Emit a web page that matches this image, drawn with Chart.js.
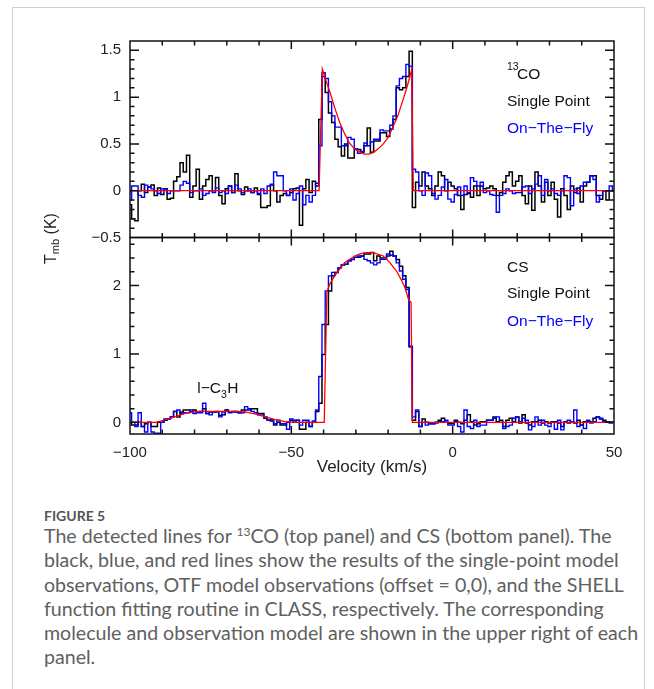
<!DOCTYPE html>
<html>
<head>
<meta charset="utf-8">
<script src="https://cdn.jsdelivr.net/npm/chart.js@4.4.1/dist/chart.umd.min.js"></script>
<style>
  html, body { margin: 0; padding: 0; background: #fff; }
  body { width: 654px; height: 689px; position: relative; overflow: hidden; }
  #box { position: absolute; left: 12px; top: 7px; width: 633px; height: 720px; border: 1px solid #cfcfcf; box-sizing: border-box; }
  #wrap { position: absolute; left: 0; top: 0; width: 654px; height: 490px; }
  #fig { position: absolute; left: 44px; top: 508px; font: 700 14px/16.8px Lato, sans-serif; color: #555; }
  #cap { position: absolute; left: 44px; top: 524px; width: 610px; font-family: Lato, sans-serif; font-size: 19.5px; line-height: 24.3px; color: #606060; white-space: nowrap; }
  #cap sup { font-size: 0.62em; vertical-align: 0.55em; line-height: 0; }
</style>
</head>
<body>
<div id="box"></div>
<div id="wrap"><canvas id="spectra"></canvas></div>
<div id="fig">FIGURE 5</div>
<div id="cap"></div>
<script>
// channel velocities (km/s), shared by both spectra
const velocity = [-100,-99,-98,-97,-96,-95,-94,-93,-92,-91,-90,-89,-88,-87,-86,-85,-84,-83,-82,-81,
  -80,-79,-78,-77,-76,-75,-74,-73,-72,-71,-70,-69,-68,-67,-66,-65,-64,-63,-62,-61,
  -60,-59,-58,-57,-56,-55,-54,-53,-52,-51,-50,-49,-48,-47,-46,-45,-44,-43,-42,-41,
  -40,-39,-38,-37,-36,-35,-34,-33,-32,-31,-30,-29,-28,-27,-26,-25,-24,-23,-22,-21,
  -20,-19,-18,-17,-16,-15,-14,-13,-12,-11,-10,-9,-8,-7,-6,-5,-4,-3,-2,-1,
  0,1,2,3,4,5,6,7,8,9,10,11,12,13,14,15,16,17,18,19,
  20,21,22,23,24,25,26,27,28,29,30,31,32,33,34,35,36,37,38,39,
  40,41,42,43,44,45,46,47,48,49,50];

// 13CO, single point (black)
const co13Single = [-0.15,-0.3,-0.32,0.0,0.07,-0.02,0.04,0.06,-0.05,0.03,
  -0.04,0.02,-0.09,-0.08,0.1,0.15,0.3,0.2,0.38,-0.07,
  0.05,0.23,-0.09,0.05,0.12,0.16,0.0,0.14,-0.05,-0.14,
  0.02,0.05,-0.02,0.18,0.0,-0.04,0.04,0.0,-0.02,0.03,
  -0.04,-0.18,-0.18,-0.16,0.06,0.0,-0.12,-0.05,-0.03,-0.05,
  -0.02,0.02,0.03,-0.37,0.02,0.12,-0.02,0.1,0.05,0.76,
  1.22,1.05,0.83,0.73,0.55,0.47,0.37,0.5,0.35,0.35,
  0.44,0.44,0.41,0.48,0.67,0.41,0.53,0.53,0.62,0.62,
  0.58,0.66,0.76,1.1,1.08,1.1,1.22,1.49,-0.18,0.09,
  0.05,0.2,0.05,0.02,-0.05,0.05,0.2,0.16,0.0,0.09,
  0.05,0.02,-0.05,-0.2,-0.04,-0.03,-0.07,0.05,-0.05,0.05,
  0.02,0.03,0.05,0.02,-0.05,-0.02,0.09,0.16,0.2,0.05,
  0.1,0.16,-0.05,-0.14,0.05,-0.21,0.2,0.05,-0.12,0.09,
  -0.05,0.09,-0.09,-0.28,0.02,-0.05,-0.2,0.05,-0.02,0.03,
  -0.12,0.05,0.09,0.16,0.16,-0.05,-0.09,0.0,-0.1,0.0,
  0.0];

// 13CO, on-the-fly (blue)
const co13Otf = [-0.1,0.05,0.05,-0.05,-0.07,0.06,0.04,0.02,0.0,-0.03,
  0.02,0.02,-0.03,0.0,0.0,0.0,0.06,0.1,0.08,-0.02,
  0.0,0.0,0.02,-0.05,-0.03,0.0,-0.02,0.03,-0.02,0.0,
  -0.03,0.05,-0.02,0.06,0.02,-0.02,0.0,0.02,-0.02,0.0,
  -0.03,0.02,-0.03,0.05,0.07,0.2,0.16,0.16,0.0,-0.05,
  0.02,-0.1,-0.03,0.05,-0.15,-0.05,-0.12,-0.05,0.08,0.48,
  1.26,1.2,0.95,0.8,0.68,0.68,0.48,0.48,0.57,0.55,
  0.45,0.4,0.42,0.51,0.48,0.52,0.55,0.55,0.65,0.64,
  0.64,0.7,0.8,1.12,1.2,1.22,1.35,1.33,0.23,0.2,
  0.0,-0.05,0.19,0.16,-0.03,-0.09,-0.05,0.04,0.12,-0.09,
  -0.12,-0.04,0.04,-0.05,0.05,-0.02,0.14,0.1,0.05,0.09,
  -0.02,0.0,-0.04,-0.05,-0.23,-0.05,-0.03,0.02,0.0,-0.03,
  -0.02,-0.02,0.04,0.05,-0.03,0.02,0.07,0.16,-0.05,0.12,
  0.0,0.02,-0.03,-0.05,0.0,0.16,0.14,-0.16,0.02,-0.03,
  0.05,0.09,0.09,0.16,0.12,-0.12,-0.05,0.0,0.0,0.05,
  0.0];

// CS, single point (black)
const csSingle = [0.0,-0.04,-0.04,0.0,-0.06,-0.02,0.0,-0.06,-0.06,0.0,
  0.0,0.03,0.05,0.08,0.16,0.08,0.15,0.18,0.18,0.15,
  0.18,0.15,0.16,0.2,0.13,0.15,0.15,0.15,0.1,0.11,
  0.18,0.15,0.16,0.15,0.14,0.18,0.18,0.18,0.2,0.2,
  0.13,0.13,0.06,0.03,0.02,-0.04,0.0,-0.04,-0.04,0.0,
  0.03,0.0,0.03,-0.1,-0.1,0.0,-0.06,0.0,0.16,0.28,
  0.99,1.43,1.92,2.14,2.19,2.26,2.3,2.31,2.36,2.38,
  2.41,2.41,2.43,2.46,2.46,2.48,2.36,2.43,2.4,2.4,
  2.43,2.5,2.43,2.38,2.28,2.14,1.97,1.11,0.03,0.16,
  -0.06,0.05,0.0,-0.02,-0.02,0.0,0.03,0.06,0.0,-0.02,
  -0.02,0.03,0.0,-0.02,0.03,0.11,0.01,-0.04,-0.02,0.01,
  0.01,0.03,0.03,0.08,0.01,0.03,-0.06,0.03,0.06,0.01,
  0.08,-0.01,0.11,-0.01,-0.04,0.01,0.01,0.03,-0.01,0.01,
  -0.01,0.01,0.01,-0.01,-0.06,0.01,-0.01,0.01,-0.01,0.03,
  -0.04,0.01,0.01,0.01,0.06,0.08,0.05,0.03,0.01,0.0,
  0.0];

// CS, on-the-fly (blue)
const csOtf = [0.14,0.0,-0.06,0.14,-0.06,-0.14,0.0,-0.14,-0.16,-0.16,
  0.0,0.05,0.05,0.08,0.16,0.18,0.13,0.14,0.14,0.18,
  0.13,0.14,0.14,0.28,0.13,0.11,0.15,0.16,0.08,0.15,
  0.18,0.14,0.15,0.16,0.14,0.14,0.23,0.2,0.16,0.14,
  0.11,0.11,0.08,0.03,0.04,-0.02,0.03,-0.02,-0.02,-0.1,
  0.05,0.03,0.03,-0.04,0.03,0.03,-0.06,0.02,0.18,0.67,
  1.43,1.92,2.14,2.19,2.19,2.26,2.3,2.31,2.36,2.38,
  2.41,2.43,2.43,2.38,2.36,2.33,2.3,2.33,2.38,2.38,
  2.46,2.44,2.43,2.33,2.21,2.09,1.94,1.1,0.08,0.18,
  -0.06,0.0,-0.04,-0.02,-0.02,-0.01,0.01,0.01,0.03,-0.04,
  -0.04,0.01,-0.06,-0.14,0.18,-0.06,-0.09,0.03,-0.06,-0.04,
  -0.04,0.03,0.03,0.06,0.08,0.0,-0.09,-0.06,-0.04,0.06,
  0.08,0.01,0.06,0.03,-0.11,-0.06,0.08,-0.04,0.03,-0.04,
  -0.06,0.0,-0.1,0.03,-0.11,0.0,0.03,0.01,0.18,-0.06,
  -0.04,-0.09,0.03,-0.01,0.01,0.08,0.06,0.01,0.0,-0.01,
  0.0];

// SHELL fits (red)
const co13FitV = [-100,-41.4,-40.4,-39,-38,-36.5,-35,-33.5,-32,-30.5,-29,-27.5,-26,-24.5,-23,-21.5,-20,-18.5,-17,-15.5,-14.2,-12.7,-12.2,50];
const co13FitT = [0,0,1.3,1.15,1.05,0.88,0.73,0.61,0.51,0.45,0.42,0.39,0.39,0.41,0.45,0.5,0.57,0.68,0.8,0.96,1.1,1.29,0,0];
const csFitV = [-100,-92,-88,-85,-82.5,-78.5,-75,-71,-67,-64,-61,-58,-55,-52,-49,
  -39.8,-39,-38.1,-36.6,-35,-33.5,-31.9,-30.4,-28.7,-27.2,-24.6,-21.5,-19.4,-17.4,-15.8,-14.8,-13.7,-12.9,-12.5,50];
const csFitT = [0,0,0.05,0.1,0.14,0.16,0.16,0.16,0.16,0.15,0.12,0.08,0.04,0.01,0,
  0,1.9,2.02,2.14,2.24,2.33,2.38,2.43,2.46,2.48,2.48,2.43,2.33,2.21,2.07,1.97,1.8,1.75,0,0];

// ticks
const xTickLabels = [-100, -50, 0, 50];
const xMinorTicks = [-90, -80, -70, -60, -50, -40, -30, -20, -10, 0, 10, 20, 30, 40];
const topTickLabels = [-0.5, 0, 0.5, 1, 1.5];
const topMinorTicks = [-0.4, -0.3, -0.2, -0.1, 0, 0.1, 0.2, 0.3, 0.4, 0.5, 0.6, 0.7, 0.8, 0.9, 1, 1.1, 1.2, 1.3, 1.4, 1.5];
const botTickLabels = [0, 1, 2];
const botMinorTicks = [0, 0.2, 0.4, 0.6, 0.8, 1, 1.2, 1.4, 1.6, 1.8, 2, 2.2, 2.4, 2.6];

const captionLines = [
  'The detected lines for <sup>13</sup>CO (top panel) and CS (bottom panel). The',
  'black, blue, and red lines show the results of the single-point model',
  'observations, OTF model observations (offset = 0,0), and the SHELL',
  'function fitting routine in CLASS, respectively. The corresponding',
  'molecule and observation model are shown in the upper right of each',
  'panel.'
];

// caption, sized so the longest line fills the box
const cap = document.getElementById('cap');
cap.innerHTML = captionLines.join('<br>');
const mctx = document.createElement('canvas').getContext('2d');
mctx.font = '20px Lato';
cap.style.fontSize = (20 * 595 / mctx.measureText(captionLines[4]).width).toFixed(2) + 'px';

const pts = (xs, ys) => xs.map((v, i) => ({ x: v, y: ys[i] }));
const minus = v => String(v).replace('-', '\u2212');
const TXT = '#222';
const FONT = '"Liberation Sans", Arial, sans-serif';

function spectrum(data, color, axis, order, width) {
  return {
    data: data, yAxisID: axis, borderColor: color, borderWidth: width,
    pointRadius: 0, stepped: 'middle', fill: false, order: order
  };
}
function fit(data, axis) {
  return {
    data: data, yAxisID: axis, borderColor: '#ff0000', borderWidth: 1.3,
    pointRadius: 0, tension: 0, fill: false, order: 0
  };
}

function yAxis(min, max, labels) {
  return {
    type: 'linear', position: 'left', stack: 'panels', stackWeight: 1,
    min: min, max: max,
    grid: { display: false, drawTicks: false },
    border: { display: false },
    afterBuildTicks: s => { s.ticks = labels.map(v => ({ value: v })); },
    afterFit: s => { s.width = 130; },
    ticks: { autoSkip: false, padding: 9, color: TXT, font: { family: FONT, size: 15 }, callback: v => minus(v) }
  };
}

// frame with inward ticks, and the texts inside the panels
const panelFrame = {
  id: 'panelFrame',
  afterDatasetsDraw(chart) {
    const { ctx, scales } = chart;
    const x = scales.x;
    const panels = [
      { y: scales.yTop, minor: topMinorTicks, major: topTickLabels },
      { y: scales.yBot, minor: botMinorTicks, major: botTickLabels }
    ];
    ctx.save();
    ctx.strokeStyle = '#111';
    ctx.lineWidth = 1.5;
    panels.forEach(p => {
      const top = p.y.top, bottom = p.y.bottom, left = x.left, right = x.right;
      ctx.strokeRect(left, top, right - left, bottom - top);
      ctx.beginPath();
      xMinorTicks.forEach(v => {
        const px = x.getPixelForValue(v);
        const len = xTickLabels.includes(v) ? 8 : 4.5;
        ctx.moveTo(px, top); ctx.lineTo(px, top + len);
        ctx.moveTo(px, bottom); ctx.lineTo(px, bottom - len);
      });
      p.minor.forEach(v => {
        const py = p.y.getPixelForValue(v);
        const len = p.major.includes(v) ? 9 : 4.5;
        ctx.moveTo(left, py); ctx.lineTo(left + len, py);
        ctx.moveTo(right, py); ctx.lineTo(right - len, py);
      });
      ctx.stroke();
    });

    const big = '15.5px ' + FONT, small = '10.5px ' + FONT;
    ctx.textBaseline = 'alphabetic';
    ctx.textAlign = 'left';
    ctx.fillStyle = '#111';
    ctx.font = small; ctx.fillText('13', 507, 69.5);
    ctx.font = big;
    ctx.fillText('CO', 517, 79);
    ctx.fillText('Single Point', 507, 106);
    ctx.fillText('CS', 507, 271.7);
    ctx.fillText('Single Point', 507, 298.3);
    ctx.fillText('l\u2212C', 197.3, 393.3);
    let w = ctx.measureText('l\u2212C').width;
    ctx.font = small; ctx.fillText('3', 197.3 + w, 397.5);
    const w3 = ctx.measureText('3').width;
    ctx.font = big; ctx.fillText('H', 197.3 + w + w3 + 0.5, 393.3);
    ctx.fillStyle = '#0000ff';
    ctx.fillText('On\u2212The\u2212Fly', 507, 132.7);
    ctx.fillText('On\u2212The\u2212Fly', 507, 326);

    // y title: T_mb (K)
    ctx.fillStyle = TXT;
    const tf = '16px ' + FONT, sf = '11px ' + FONT;
    ctx.font = tf; const wT = ctx.measureText('T').width, wK = ctx.measureText(' (K)').width;
    ctx.font = sf; const wS = ctx.measureText('mb').width;
    const total = wT + wS + wK;
    const cy = (scales.yTop.top + scales.yBot.bottom) / 2 + 1;
    ctx.translate(56, cy);
    ctx.rotate(-Math.PI / 2);
    let tx = -total / 2;
    ctx.font = tf; ctx.fillText('T', tx, 0); tx += wT;
    ctx.font = sf; ctx.fillText('mb', tx, 3); tx += wS;
    ctx.font = tf; ctx.fillText(' (K)', tx, 0);
    ctx.restore();
  }
};

new Chart(document.getElementById('spectra'), {
  type: 'line',
  data: {
    datasets: [
      spectrum(pts(velocity, co13Single), '#000000', 'yTop', 2, 1.5),
      spectrum(pts(velocity, co13Otf), '#0000ff', 'yTop', 1, 1.4),
      fit(pts(co13FitV, co13FitT), 'yTop'),
      spectrum(pts(velocity, csSingle), '#000000', 'yBot', 2, 1.5),
      spectrum(pts(velocity, csOtf), '#0000ff', 'yBot', 1, 1.4),
      fit(pts(csFitV, csFitT), 'yBot')
    ]
  },
  options: {
    responsive: true,
    maintainAspectRatio: false,
    animation: false,
    events: [],
    layout: { padding: { top: 41, right: 40, left: 0, bottom: 0 } },
    plugins: { legend: { display: false }, tooltip: { enabled: false } },
    scales: {
      x: {
        type: 'linear', min: -100, max: 50,
        grid: { display: false, drawTicks: false },
        border: { display: false },
        afterBuildTicks: s => { s.ticks = xTickLabels.map(v => ({ value: v })); },
        afterFit: s => { s.height = 56; },
        ticks: { autoSkip: false, maxRotation: 0, padding: 10, color: TXT, font: { family: FONT, size: 15 }, callback: v => minus(v) },
        title: { display: true, text: 'Velocity (km/s)', color: TXT, font: { family: FONT, size: 17 }, padding: { top: 0, bottom: 12 } }
      },
      // stacked axes: the one listed last is placed on top
      yBot: yAxis(-0.17, 2.7, botTickLabels),
      yTop: yAxis(-0.5, 1.6, topTickLabels)
    }
  },
  plugins: [panelFrame]
});
</script>
</body>
</html>
